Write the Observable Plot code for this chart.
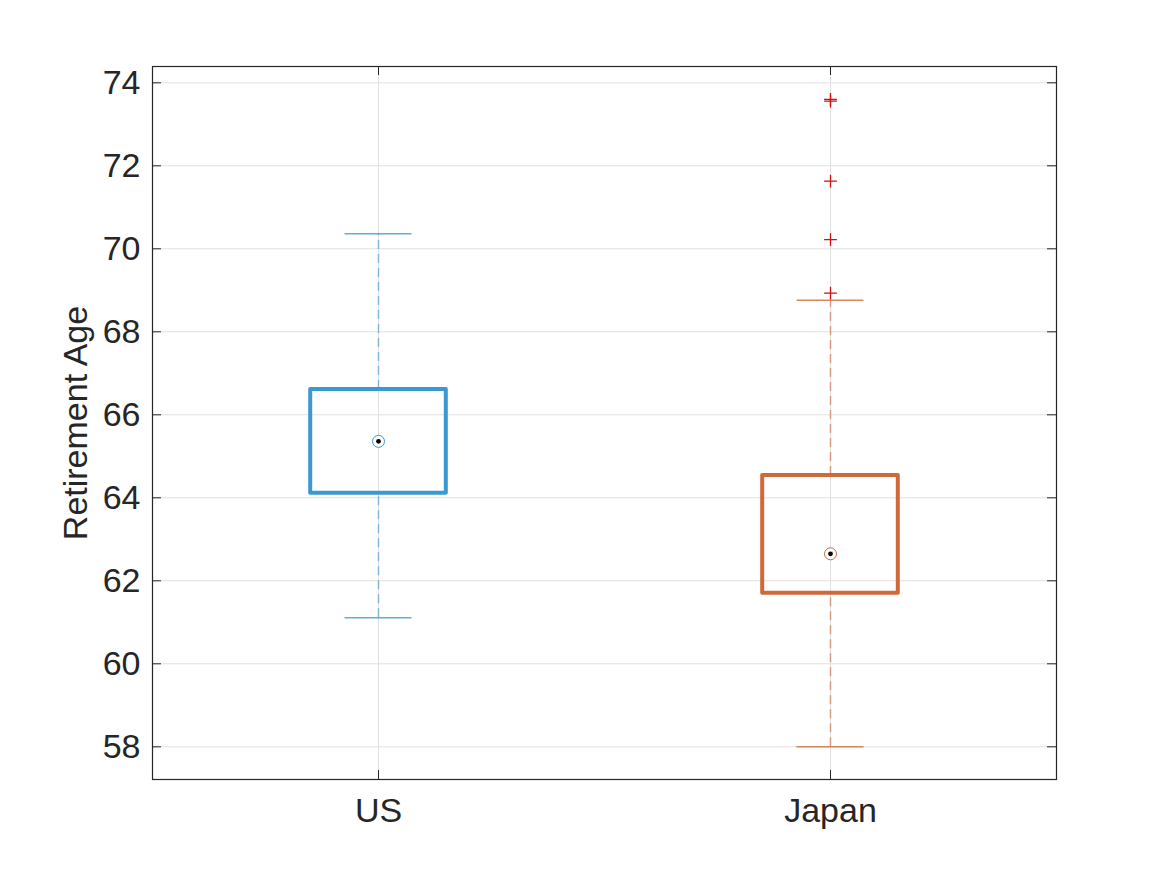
<!DOCTYPE html>
<html>
<head>
<meta charset="utf-8">
<script src="https://cdn.jsdelivr.net/npm/d3@7"></script>
<script src="https://cdn.jsdelivr.net/npm/@observablehq/plot@0.6"></script>
<style>
  html, body { margin: 0; padding: 0; background: #fff; }
  #chart svg { display: block; }
</style>
</head>
<body>
<div id="chart"></div>
<script>
// ---- data ----
const categories = ["US", "Japan"];
const q1 = [64.11, 61.70];
const medians = [65.36, 62.65];
const q3 = [66.61, 64.54];
const whiskerLow = [61.11, 58.00];
const whiskerHigh = [70.36, 68.76];
const outlierGroup = ["Japan", "Japan", "Japan", "Japan", "Japan"];
const outlierValues = [73.60, 73.56, 71.63, 70.22, 68.93];
const yTicks = [58, 60, 62, 64, 66, 68, 70, 72, 74];
const yLabel = "Retirement Age";

// ---- derived tables ----
const colors = {US: "#3b98d0", Japan: "#d0693a"};
const boxes = categories.map((c, i) => ({
  cat: c, pos: i + 1, q1: q1[i], med: medians[i], q3: q3[i],
  lo: whiskerLow[i], hi: whiskerHigh[i], color: colors[c]
}));
const outliers = outlierValues.map((v, i) => ({pos: categories.indexOf(outlierGroup[i]) + 1, v}));

const W = 1167, H = 875;
const mL = 152, mR = 111, mT = 66, mB = 96;
const pw = W - mL - mR, ph = H - mT - mB;
const halfBox = 0.15, halfCap = 0.074, tickLen = 9;
const font = "'Liberation Sans', Arial, Helvetica, sans-serif";
const fs = 34;

const chart = Plot.plot({
  width: W, height: H,
  marginLeft: mL, marginRight: mR, marginTop: mT, marginBottom: mB,
  style: {fontFamily: font, fontSize: fs + "px", color: "#262626", background: "#fff"},
  x: {type: "linear", domain: [0.5, 2.5]},
  y: {domain: [57.212, 74.393]},
  marks: [
    Plot.gridY(yTicks, {stroke: "#e0e0e0", strokeOpacity: 1}),
    Plot.gridX([1, 2], {stroke: "#e0e0e0", strokeOpacity: 1}),
    // whiskers
    Plot.ruleX(boxes, {x: "pos", y1: "q3", y2: "hi", stroke: "color", strokeOpacity: 0.6, strokeWidth: 1.5, strokeDasharray: "9,5"}),
    Plot.ruleX(boxes, {x: "pos", y1: "lo", y2: "q1", stroke: "color", strokeOpacity: 0.6, strokeWidth: 1.5, strokeDasharray: "9,5"}),
    // caps
    Plot.ruleY(boxes, {y: "hi", x1: d => d.pos - halfCap, x2: d => d.pos + halfCap, stroke: "color", strokeOpacity: 0.8, strokeWidth: 1.5}),
    Plot.ruleY(boxes, {y: "lo", x1: d => d.pos - halfCap, x2: d => d.pos + halfCap, stroke: "color", strokeOpacity: 0.8, strokeWidth: 1.5}),
    // boxes
    Plot.rect(boxes, {x1: d => d.pos - halfBox, x2: d => d.pos + halfBox, y1: "q1", y2: "q3", fill: "none", stroke: "color", strokeWidth: 4, strokeLinejoin: "round"}),
    // medians
    Plot.dot(boxes, {x: "pos", y: "med", r: 6, fill: "#fff", stroke: "color", strokeWidth: 1}),
    Plot.dot(boxes, {x: "pos", y: "med", r: 2.4, fill: "#000", stroke: "none"}),
    // outliers
    Plot.dot(outliers, {x: "pos", y: "v", symbol: "plus", r: 4.2, stroke: "#d01010", strokeWidth: 1.3, fill: "none"}),
    // frame and inward ticks
    Plot.frame({stroke: "#262626", strokeWidth: 1.2}),
    Plot.tickY(yTicks, {y: d => d, insetRight: pw - tickLen, stroke: "#262626"}),
    Plot.tickY(yTicks, {y: d => d, insetLeft: pw - tickLen, stroke: "#262626"}),
    Plot.tickX([1, 2], {x: d => d, insetTop: ph - tickLen, stroke: "#262626"}),
    Plot.tickX([1, 2], {x: d => d, insetBottom: ph - tickLen, stroke: "#262626"}),
    // axes
    Plot.axisY(yTicks, {tickSize: 0, tickPadding: 12, label: yLabel, labelAnchor: "center", labelOffset: 90, labelArrow: "none", fontSize: fs}),
    Plot.axisX([1, 2], {tickSize: 0, tickPadding: 18, tickFormat: d => categories[d - 1], label: null, fontSize: fs})
  ]
});
document.getElementById("chart").appendChild(chart);
</script>
</body>
</html>
